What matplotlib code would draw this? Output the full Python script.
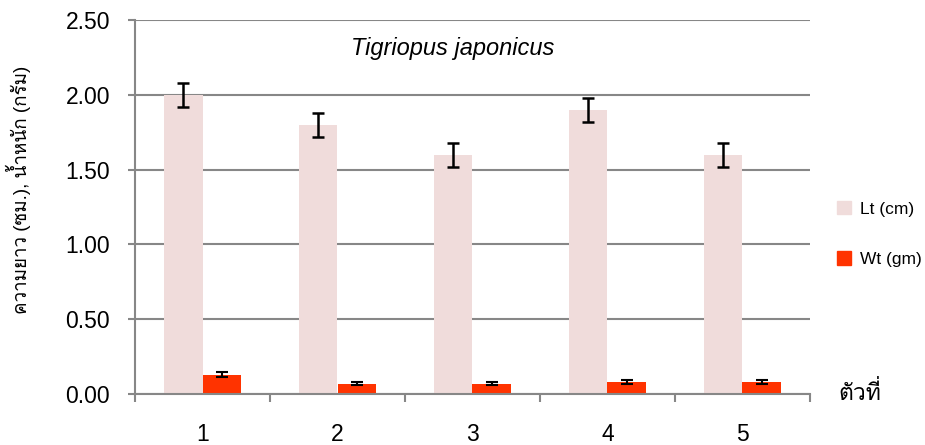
import numpy as np
import matplotlib.pyplot as plt
from matplotlib import font_manager, ft2font
from matplotlib.patches import Patch

# data
categories = ["1", "2", "3", "4", "5"]
length_cm = [2.00, 1.80, 1.60, 1.90, 1.60]
length_err = [0.08, 0.08, 0.08, 0.08, 0.08]
weight_gm = [0.13, 0.07, 0.07, 0.08, 0.08]
weight_err = [0.015, 0.012, 0.012, 0.012, 0.012]
y_ticks = [0.0, 0.5, 1.0, 1.5, 2.0, 2.5]

C_LT = "#f0dcdb"
C_WT = "#ff3300"
C_GRID = "#878787"


def find_thai_font():
    # first installed family that has Thai glyphs (Loma here)
    for f in font_manager.fontManager.ttflist:
        try:
            cmap = ft2font.FT2Font(f.fname).get_charmap()
        except Exception:
            continue
        if ord("\u0e01") in cmap:
            return [f.name]
    return []


plt.rcParams["font.family"] = ["Liberation Sans"] + find_thai_font() + ["DejaVu Sans"]

fig = plt.figure(figsize=(9.25, 4.45), dpi=100)
ax = fig.add_axes([135 / 925, 1 - 394 / 445, 675 / 925, 374 / 445])

x = np.arange(len(categories))
w = 0.285
ax.bar(x - w / 2, length_cm, w, color=C_LT, zorder=2)
ax.bar(x + w / 2, weight_gm, w, color=C_WT, zorder=2)
ax.errorbar(x - w / 2, length_cm, yerr=length_err, fmt="none", ecolor="black",
            elinewidth=1.8, capsize=4.5, capthick=1.8, zorder=3)
ax.errorbar(x + w / 2, weight_gm, yerr=weight_err, fmt="none", ecolor="black",
            elinewidth=1.5, capsize=4.5, capthick=1.5, zorder=3)

ax.set_xlim(-0.5, len(categories) - 0.5)
ax.set_ylim(0, 2.5)
ax.set_yticks(y_ticks)
ax.set_yticklabels([f"{v:.2f}" for v in y_ticks], fontsize=16.5)
ax.yaxis.grid(True, color=C_GRID, linewidth=1.5, zorder=0)
ax.set_axisbelow(True)

ax.set_xticks(x)
ax.set_xticklabels(categories, fontsize=16.5)
ax.set_xticks(np.arange(len(categories) + 1) - 0.5, minor=True)
ax.tick_params(axis="x", which="major", length=0, pad=21)
ax.tick_params(axis="x", which="minor", length=6, width=1.5, color=C_GRID)
ax.tick_params(axis="y", length=5, width=1.5, color=C_GRID, pad=13)

for side in ("top", "right"):
    ax.spines[side].set_visible(False)
for side in ("left", "bottom"):
    ax.spines[side].set_color(C_GRID)
    ax.spines[side].set_linewidth(1.5)

fig.text(453 / 925, 1 - 48 / 445, "Tigriopus japonicus", fontsize=17, style="italic",
         ha="center", va="center")
fig.text(18 / 925, 1 - 190 / 445, "ความยาว (ซม.), น้ำหนัก (กรัม)", fontsize=13.5,
         rotation=90, ha="center", va="center")
fig.text(838 / 925, 1 - 400 / 445, "ตัวที่", fontsize=16.5)

handles = [Patch(color=C_LT, label="Lt (cm)"), Patch(color=C_WT, label="Wt (gm)")]
fig.legend(handles=handles, loc="center left", bbox_to_anchor=(837 / 925, 1 - 234 / 445),
           frameon=False, fontsize=12.5, handlelength=0.8, handleheight=0.8,
           labelspacing=2.0, handletextpad=0.5, borderpad=0, borderaxespad=0)

fig.savefig("out.png", dpi=100)
